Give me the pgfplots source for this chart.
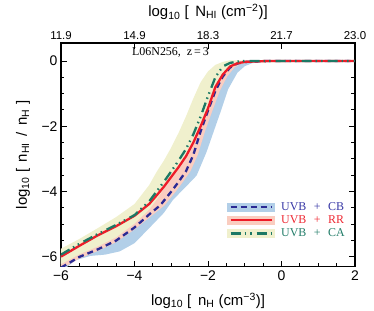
\documentclass[border=0pt]{standalone}
\usepackage{fontspec}
\setmainfont{Liberation Sans}
\newfontfamily\serifish{Liberation Serif}
\usepackage{pgfplots}
\pgfplotsset{compat=1.18}
\definecolor{bandB}{RGB}{178,207,232}
\definecolor{bandR}{RGB}{250,205,192}
\definecolor{bandY}{RGB}{240,240,205}
\definecolor{lineB}{RGB}{42,42,148}
\definecolor{lineR}{RGB}{238,28,40}
\definecolor{lineG}{RGB}{28,120,100}
\definecolor{txtB}{RGB}{55,55,165}
\definecolor{txtR}{RGB}{238,40,50}
\definecolor{txtG}{RGB}{35,125,105}
\tikzset{
  cbline/.style={lineB, line width=2.3bp, dash pattern=on 6bp off 4bp},
  rrline/.style={lineR, line width=2.3bp},
  caline/.style={lineG, line width=2.3bp, dash pattern=on 10bp off 4bp on 1.5bp off 4bp on 1.5bp off 5bp},
}
\newcommand{\gap}{\hspace{7.5bp}}
\begin{document}
\begin{tikzpicture}
\begin{axis}[
  scale only axis, width=294bp, height=223.7bp,
  xmin=-6, xmax=2, ymin=-6.3, ymax=0.55,
  axis line style={line width=1.2bp},
  xtick={-6,-4,-2,0,2}, xticklabels={−6,−4,−2,0,2},
  ytick={-6,-4,-2,0}, yticklabels={−6,−4,−2,0},
  minor x tick num=3, minor y tick num=3,
  tick align=inside, xtick pos=left, ytick pos=both, yticklabel pos=left,
  major tick length=6bp, minor tick length=3.5bp,
  every tick/.style={line width=0.9bp, black},
  tick label style={font=\fontsize{14}{14}\selectfont},
  xticklabel style={yshift=-1bp},
  xlabel={log\textsubscript{10} [ \,n\textsubscript{H} (cm\textsuperscript{−3})]},
  xlabel style={at={(axis description cs:0.5,0)}, anchor=center, yshift=-34bp, font=\fontsize{15}{15}\selectfont},
  ylabel={log\textsubscript{10} [ \,n\textsubscript{HI} \,/ \,n\textsubscript{H} ]},
  ylabel style={at={(axis description cs:0,0.5)}, anchor=center, yshift=38bp, font=\fontsize{15}{15}\selectfont},
  legend style={draw=none, fill=none, at={(axis cs:-1.48,-4.27)}, anchor=north west,
    font=\serifish\fontsize{12}{12}\selectfont, row sep=1bp, inner sep=0pt,
    nodes={inner sep=1.5bp}},
  legend cell align=left,
]
% bands
\addplot[forget plot, fill=bandB, draw=none] coordinates {
(-6,-5.95) (-5.5,-5.62) (-5,-5.3) (-4.5,-5.02) (-4,-4.7) (-3.6,-4.34) (-3.4,-4.08) (-3.2,-3.8) (-3,-3.5) (-2.8,-3.2) (-2.6,-2.87) (-2.4,-2.45) (-2.2,-1.95) (-2,-1.4) (-1.8,-0.8) (-1.6,-0.38) (-1.4,-0.14) (-1.2,-0.05) (-1,-0.01) (-0.5,0.02) (2,0.02)
(2,-0.02) (0,-0.02) (-0.5,-0.03) (-0.8,-0.07) (-1.0,-0.16) (-1.2,-0.36) (-1.45,-0.86) (-1.63,-1.47) (-1.82,-2.08) (-2.04,-2.79) (-2.31,-3.51) (-2.6,-3.85) (-2.95,-4.25) (-3.2,-4.65) (-3.6,-5.12) (-4.0,-5.58) (-4.4,-5.83) (-4.8,-5.93) (-5.2,-5.97) (-5.6,-6.1) (-6,-6.45)
} -- cycle;
\addplot[forget plot, fill=bandR, draw=none] coordinates {
(-6,-5.93) (-5.5,-5.6) (-5,-5.3) (-4.5,-5.02) (-4,-4.72) (-3.6,-4.3) (-3.4,-4.0) (-3.2,-3.7) (-3,-3.38) (-2.8,-3.05) (-2.6,-2.7) (-2.4,-2.25) (-2.2,-1.7) (-2,-1.08) (-1.8,-0.5) (-1.6,-0.17) (-1.4,-0.06) (-1.2,-0.02) (-1,0.01) (2,0.01)
(2,-0.01) (0,-0.01) (-0.7,-0.02) (-1.08,-0.08) (-1.28,-0.2) (-1.48,-0.48) (-1.68,-0.92) (-1.88,-1.52) (-2.08,-2.15) (-2.28,-2.88) (-2.48,-3.38) (-2.68,-3.7) (-2.88,-4.0) (-3.18,-4.42) (-3.6,-4.8) (-4.0,-5.16) (-4.5,-5.55) (-5.0,-5.82) (-5.5,-6.05) (-6,-6.37)
} -- cycle;
\addplot[forget plot, fill=bandY, draw=none] coordinates {
(-6,-5.75) (-5.5,-5.45) (-5,-5.12) (-4.5,-4.78) (-4,-4.38) (-3.6,-3.8) (-3.4,-3.4) (-3.2,-3.05) (-3,-2.65) (-2.8,-2.2) (-2.6,-1.7) (-2.4,-1.15) (-2.2,-0.65) (-2,-0.32) (-1.8,-0.12) (-1.6,-0.03) (-1.4,0.02) (2,0.02)
(2,-0.02) (-1.0,-0.05) (-1.4,-0.2) (-1.6,-0.45) (-1.8,-0.85) (-2.0,-1.45) (-2.2,-2.0) (-2.4,-2.5) (-2.6,-2.92) (-2.8,-3.25) (-3.0,-3.55) (-3.2,-3.9) (-3.4,-4.25) (-3.6,-4.55) (-4.0,-4.98) (-4.5,-5.4) (-5.0,-5.68) (-5.5,-5.92) (-6,-6.22)
} -- cycle;
% lines
\addplot[forget plot, cbline] coordinates {
(-6.0,-6.33) (-5.5,-6.0) (-5.0,-5.77) (-4.5,-5.5) (-4.0,-5.1) (-3.6,-4.7) (-3.3,-4.42) (-3.0,-4.0) (-2.8,-3.7) (-2.6,-3.38) (-2.4,-2.88) (-2.2,-2.15) (-2.0,-1.52) (-1.8,-0.92) (-1.6,-0.48) (-1.4,-0.2) (-1.2,-0.08) (-1.0,-0.03) (-0.5,-0.005) (0,0) (2,0)
};
\addplot[forget plot, rrline] coordinates {
(-6.0,-5.99) (-5.5,-5.66) (-5.0,-5.34) (-4.5,-5.06) (-4.0,-4.74) (-3.6,-4.38) (-3.4,-4.12) (-3.2,-3.85) (-3.0,-3.55) (-2.8,-3.25) (-2.6,-2.92) (-2.4,-2.5) (-2.2,-2.0) (-2.0,-1.45) (-1.8,-0.8) (-1.6,-0.42) (-1.4,-0.17) (-1.2,-0.07) (-1.0,-0.03) (-0.5,-0.005) (0,0) (2,0)
};
\addplot[forget plot, caline] coordinates {
(-6.0,-5.93) (-5.5,-5.6) (-5.0,-5.3) (-4.5,-5.02) (-4.0,-4.72) (-3.6,-4.3) (-3.4,-4.0) (-3.2,-3.7) (-3.0,-3.38) (-2.8,-3.05) (-2.6,-2.7) (-2.4,-2.25) (-2.2,-1.7) (-2.0,-1.08) (-1.8,-0.5) (-1.6,-0.17) (-1.4,-0.06) (-1.2,-0.02) (-1.0,0) (2,0)
};
\node[anchor=west, font=\serifish\fontsize{12}{12}\selectfont, inner sep=0pt] at (axis cs:-4.07,0.27) {L06N256,\ \ z\,=\,3};
\addlegendimage{legend image code/.code={\fill[bandB] (0bp,-4bp) rectangle (47bp,4bp); \draw[cbline] (3bp,0bp) -- (44bp,0bp);}}
\addlegendentry[text=txtB]{\hspace{5bp}UVB\gap+\gap CB}
\addlegendimage{legend image code/.code={\fill[bandR] (0bp,-4bp) rectangle (47bp,4bp); \draw[rrline] (3bp,0bp) -- (44bp,0bp);}}
\addlegendentry[text=txtR]{\hspace{5bp}UVB\gap+\gap RR}
\addlegendimage{legend image code/.code={\fill[bandY] (0bp,-4bp) rectangle (47bp,4bp); \draw[caline] (3bp,0bp) -- (44bp,0bp);}}
\addlegendentry[text=txtG]{\hspace{5bp}UVB\gap+\gap CA}
\end{axis}
\begin{axis}[
  scale only axis, width=294bp, height=223.7bp,
  xmin=-6, xmax=2, ymin=0, ymax=1,
  axis x line*=top, axis y line=none,
  axis line style={line width=1.2bp},
  xtick={-6,-4,-2,0,2}, xticklabels={11.9,14.9,18.3,21.7,23.0},
  tick align=inside, major tick length=6bp,
  every tick/.style={line width=0.9bp, black},
  tick label style={font=\fontsize{11.5}{11.5}\selectfont},
  xlabel={log\textsubscript{10} [ \,N\textsubscript{HI} (cm\textsuperscript{−2})]},
  xlabel style={at={(axis description cs:0.5,1)}, anchor=center, yshift=31bp, font=\fontsize{15}{15}\selectfont},
]
\end{axis}
\pgfresetboundingbox
\useasboundingbox (-61bp,-44.3bp) rectangle (313bp,266.7bp);
\end{tikzpicture}
\end{document}
